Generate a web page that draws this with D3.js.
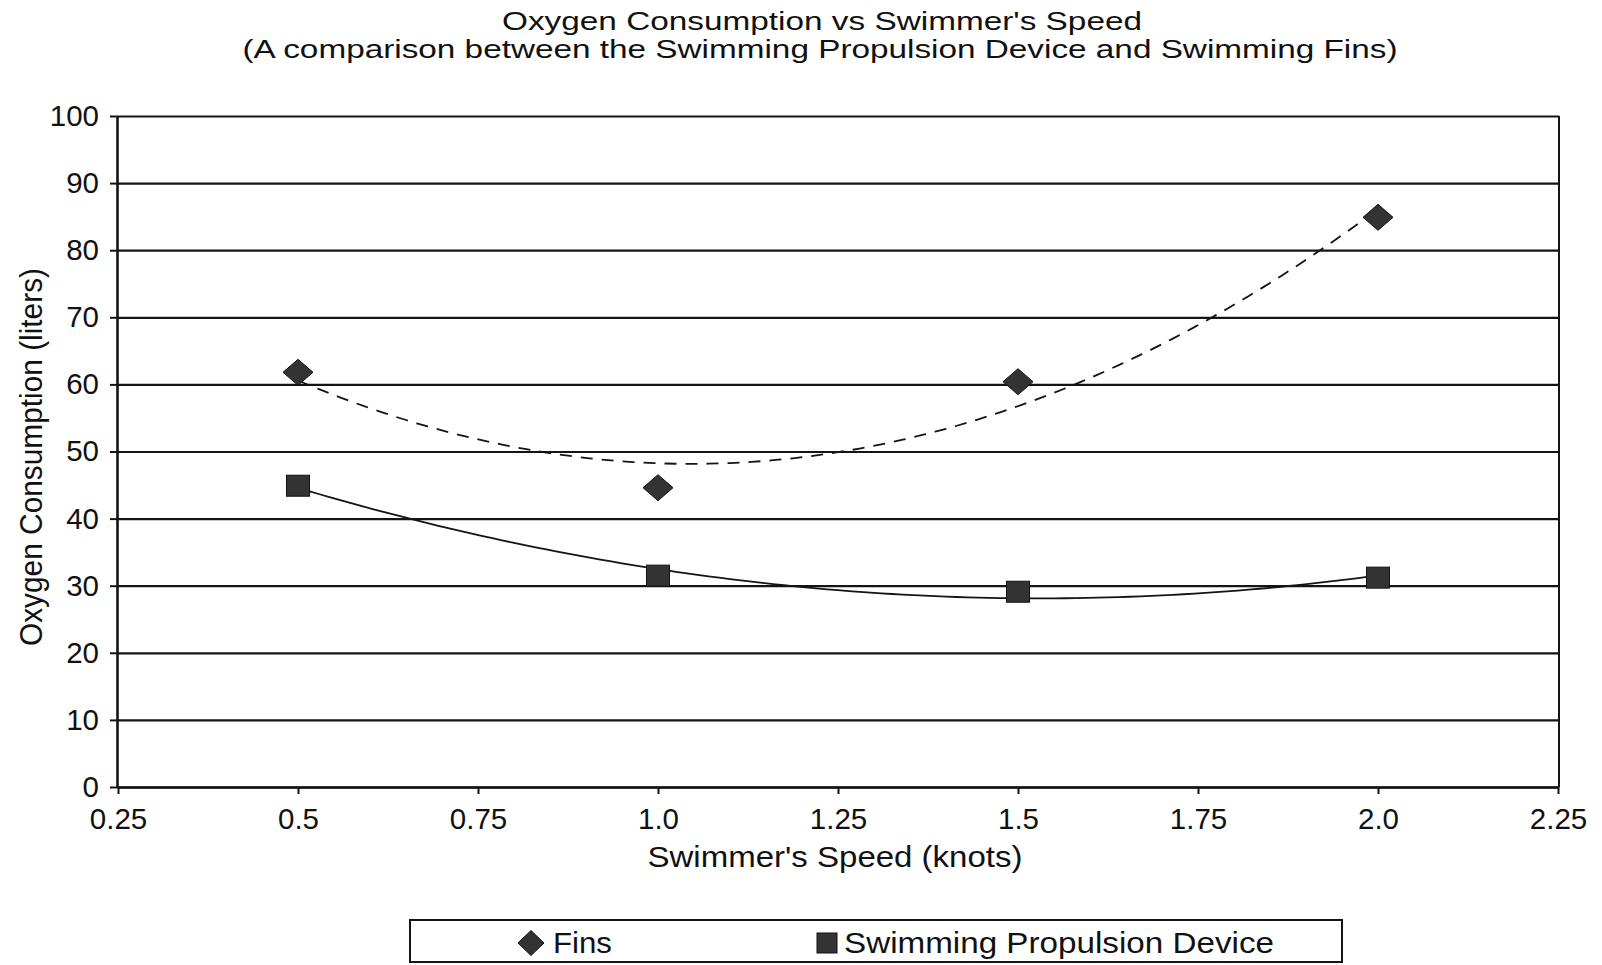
<!DOCTYPE html>
<html>
<head>
<meta charset="utf-8">
<script src="https://cdn.jsdelivr.net/npm/d3@7"></script>
<style>
  html, body { margin: 0; padding: 0; background: #fff; }
  svg { display: block; }
  text { font-family: "Liberation Sans", Arial, sans-serif; fill: #111; }
</style>
</head>
<body>
<svg id="chart" width="1602" height="965"></svg>
<script>
// ---- data ----
const speeds = [0.5, 1.0, 1.5, 2.0];
const finsValues = [61.8, 44.6, 60.4, 84.9];
const deviceValues = [44.9, 31.5, 29.1, 31.2];
const seriesNames = ["Fins", "Swimming Propulsion Device"];
const xTicks = [0.25, 0.5, 0.75, 1.0, 1.25, 1.5, 1.75, 2.0, 2.25];
const xTickLabels = ["0.25", "0.5", "0.75", "1.0", "1.25", "1.5", "1.75", "2.0", "2.25"];
const yTicks = [0, 10, 20, 30, 40, 50, 60, 70, 80, 90, 100];
const titleLines = ["Oxygen Consumption vs Swimmer's Speed",
  "(A comparison between the Swimming Propulsion Device and Swimming Fins)"];
const xAxisTitle = "Swimmer's Speed (knots)";
const yAxisTitle = "Oxygen Consumption (liters)";

// ---- layout ----
const svg = d3.select("#chart");
const L = 117, R = 1559, T = 116, B = 787;
const x = d3.scaleLinear().domain([0.25, 2.25]).range([L + 1, R - 1]);
const y = d3.scaleLinear().domain([0, 100]).range([B, T]);
const ink = "#141414";

// quadratic least-squares trendline (as Excel polynomial order 2)
function quadFit(xs, ys) {
  const n = xs.length;
  let s = [0,0,0,0,0], t = [0,0,0];
  for (let i = 0; i < n; i++) {
    const xi = xs[i], yi = ys[i];
    for (let k = 0; k < 5; k++) s[k] += Math.pow(xi, k);
    for (let k = 0; k < 3; k++) t[k] += Math.pow(xi, k) * yi;
  }
  const M = [[s[0], s[1], s[2], t[0]], [s[1], s[2], s[3], t[1]], [s[2], s[3], s[4], t[2]]];
  for (let c = 0; c < 3; c++) {
    for (let r = c + 1; r < 3; r++) {
      const f = M[r][c] / M[c][c];
      for (let k = c; k < 4; k++) M[r][k] -= f * M[c][k];
    }
  }
  const coef = [0,0,0];
  for (let r = 2; r >= 0; r--) {
    let v = M[r][3];
    for (let k = r + 1; k < 3; k++) v -= M[r][k] * coef[k];
    coef[r] = v / M[r][r];
  }
  return xv => coef[0] + coef[1] * xv + coef[2] * xv * xv;
}

// gridlines
const grid = svg.append("g").attr("transform", `translate(${L},0)`)
  .call(d3.axisLeft(y).tickValues(yTicks).tickSize(-(R - L)).tickFormat(""));
grid.select(".domain").remove();
grid.selectAll("line").attr("stroke", ink).attr("stroke-width", 2.2);

// right border
svg.append("line").attr("x1", R).attr("x2", R).attr("y1", T).attr("y2", B)
  .attr("stroke", ink).attr("stroke-width", 2);

// y axis
const yAx = svg.append("g").attr("transform", `translate(${L},0)`)
  .call(d3.axisLeft(y).tickValues(yTicks).tickSize(7).tickSizeOuter(0).tickPadding(11).tickFormat(d3.format("d")));
yAx.select(".domain").attr("stroke", ink).attr("stroke-width", 2.6);
yAx.selectAll("line").attr("stroke", ink).attr("stroke-width", 2);
yAx.selectAll("text").attr("font-size", 29.5).attr("fill", ink)
  .style("font-family", '"Liberation Sans", Arial, sans-serif');

// x axis
const xAx = svg.append("g").attr("transform", `translate(0,${B})`)
  .call(d3.axisBottom(x).tickValues(xTicks).tickSize(7).tickSizeOuter(0).tickPadding(14)
    .tickFormat((d, i) => xTickLabels[i]));
xAx.select(".domain").attr("stroke", ink).attr("stroke-width", 2.4);
xAx.selectAll("line").attr("stroke", ink).attr("stroke-width", 2);
xAx.selectAll("text").attr("font-size", 29.5).attr("fill", ink)
  .style("font-family", '"Liberation Sans", Arial, sans-serif');

// trendlines
const samples = d3.range(0, 101).map(i => 0.5 + 1.5 * i / 100);
const finsFit = quadFit(speeds, finsValues);
const devFit = quadFit(speeds, deviceValues);
const line = d3.line().x(d => x(d[0])).y(d => y(d[1])).curve(d3.curveLinear);
svg.append("path").datum(samples.map(s => [s, finsFit(s)]))
  .attr("d", line).attr("fill", "none").attr("stroke", ink)
  .attr("stroke-width", 1.8).attr("stroke-dasharray", "12,9");
svg.append("path").datum(samples.map(s => [s, devFit(s)]))
  .attr("d", line).attr("fill", "none").attr("stroke", ink)
  .attr("stroke-width", 1.8);

// markers
const markFill = "#333";
const diamond = (w, h) => `M0,${-h/2}L${w/2},0L0,${h/2}L${-w/2},0Z`;
svg.append("g").selectAll("path").data(speeds.map((s, i) => [s, finsValues[i]]))
  .join("path").attr("d", diamond(30, 26))
  .attr("transform", d => `translate(${x(d[0])},${y(d[1])})`)
  .attr("fill", markFill).attr("stroke", "#111").attr("stroke-width", 1);
svg.append("g").selectAll("rect").data(speeds.map((s, i) => [s, deviceValues[i]]))
  .join("rect").attr("width", 23).attr("height", 21)
  .attr("x", d => x(d[0]) - 11.5).attr("y", d => y(d[1]) - 10.5)
  .attr("fill", markFill).attr("stroke", "#111").attr("stroke-width", 1);

// titles
svg.append("text").attr("x", 822).attr("y", 30).attr("text-anchor", "middle")
  .attr("font-size", 25).attr("textLength", 640).attr("lengthAdjust", "spacingAndGlyphs")
  .text(titleLines[0]);
svg.append("text").attr("x", 820).attr("y", 58).attr("text-anchor", "middle")
  .attr("font-size", 25).attr("textLength", 1155).attr("lengthAdjust", "spacingAndGlyphs")
  .text(titleLines[1]);

svg.append("text").attr("x", 835).attr("y", 867).attr("text-anchor", "middle")
  .attr("font-size", 30).attr("textLength", 375).attr("lengthAdjust", "spacingAndGlyphs")
  .text(xAxisTitle);

svg.append("text").attr("transform", "translate(42,457) rotate(-90)").attr("text-anchor", "middle")
  .attr("font-size", 31).attr("textLength", 378).attr("lengthAdjust", "spacingAndGlyphs")
  .text(yAxisTitle);

// legend
const leg = svg.append("g");
leg.append("rect").attr("x", 410).attr("y", 920).attr("width", 932).attr("height", 42)
  .attr("fill", "none").attr("stroke", ink).attr("stroke-width", 2);
leg.append("path").attr("d", diamond(26, 25)).attr("transform", "translate(531,943)")
  .attr("fill", markFill).attr("stroke", "#111").attr("stroke-width", 1);
leg.append("text").attr("x", 553).attr("y", 953).attr("font-size", 30)
  .attr("textLength", 59).attr("lengthAdjust", "spacingAndGlyphs").text(seriesNames[0]);
leg.append("rect").attr("x", 817).attr("y", 933).attr("width", 20).attr("height", 20)
  .attr("fill", markFill).attr("stroke", "#111").attr("stroke-width", 1);
leg.append("text").attr("x", 844).attr("y", 953).attr("font-size", 30)
  .attr("textLength", 430).attr("lengthAdjust", "spacingAndGlyphs").text(seriesNames[1]);
</script>
</body>
</html>
